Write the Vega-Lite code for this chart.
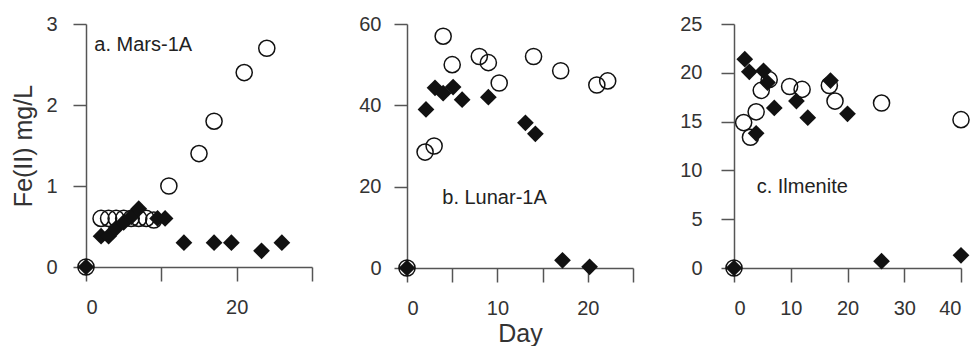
{
  "$schema": "https://vega.github.io/schema/vega-lite/v6.json",
  "background": "white",
  "padding": {"left": 11, "top": 14, "right": 0, "bottom": 0},
  "datasets": {
    "mars": [
      {"day": 0, "fe": 0, "series": "open"},
      {"day": 2, "fe": 0.6, "series": "open"},
      {"day": 3, "fe": 0.6, "series": "open"},
      {"day": 4, "fe": 0.6, "series": "open"},
      {"day": 5, "fe": 0.6, "series": "open"},
      {"day": 6, "fe": 0.6, "series": "open"},
      {"day": 7, "fe": 0.6, "series": "open"},
      {"day": 8, "fe": 0.6, "series": "open"},
      {"day": 9, "fe": 0.58, "series": "open"},
      {"day": 11, "fe": 1.0, "series": "open"},
      {"day": 15, "fe": 1.4, "series": "open"},
      {"day": 17, "fe": 1.8, "series": "open"},
      {"day": 21, "fe": 2.4, "series": "open"},
      {"day": 24, "fe": 2.7, "series": "open"},
      {"day": 0, "fe": 0, "series": "filled"},
      {"day": 2, "fe": 0.38, "series": "filled"},
      {"day": 3, "fe": 0.38, "series": "filled"},
      {"day": 4, "fe": 0.48, "series": "filled"},
      {"day": 5, "fe": 0.55, "series": "filled"},
      {"day": 6, "fe": 0.62, "series": "filled"},
      {"day": 7, "fe": 0.72, "series": "filled"},
      {"day": 9.5, "fe": 0.6, "series": "filled"},
      {"day": 10.5, "fe": 0.6, "series": "filled"},
      {"day": 13, "fe": 0.3, "series": "filled"},
      {"day": 17, "fe": 0.3, "series": "filled"},
      {"day": 19.3, "fe": 0.3, "series": "filled"},
      {"day": 23.3, "fe": 0.2, "series": "filled"},
      {"day": 26, "fe": 0.3, "series": "filled"}
    ],
    "lunar": [
      {"day": 0, "fe": 0, "series": "open"},
      {"day": 2, "fe": 28.5, "series": "open"},
      {"day": 3, "fe": 30, "series": "open"},
      {"day": 4, "fe": 57, "series": "open"},
      {"day": 5, "fe": 50, "series": "open"},
      {"day": 8, "fe": 52, "series": "open"},
      {"day": 9, "fe": 50.5, "series": "open"},
      {"day": 10.2, "fe": 45.5, "series": "open"},
      {"day": 14, "fe": 52, "series": "open"},
      {"day": 17, "fe": 48.5, "series": "open"},
      {"day": 21, "fe": 45, "series": "open"},
      {"day": 22.2, "fe": 46, "series": "open"},
      {"day": 0, "fe": 0, "series": "filled"},
      {"day": 2.1, "fe": 39, "series": "filled"},
      {"day": 3.1, "fe": 44.3, "series": "filled"},
      {"day": 4, "fe": 43, "series": "filled"},
      {"day": 5.1, "fe": 44.5, "series": "filled"},
      {"day": 6.1, "fe": 41.4, "series": "filled"},
      {"day": 9, "fe": 42, "series": "filled"},
      {"day": 13.1, "fe": 35.7, "series": "filled"},
      {"day": 14.2, "fe": 33, "series": "filled"},
      {"day": 17.2, "fe": 1.9, "series": "filled"},
      {"day": 20.2, "fe": 0.3, "series": "filled"}
    ],
    "ilmenite": [
      {"day": 0, "fe": 0, "series": "open"},
      {"day": 1.7, "fe": 14.9, "series": "open"},
      {"day": 2.9, "fe": 13.4, "series": "open"},
      {"day": 3.9, "fe": 16, "series": "open"},
      {"day": 4.8, "fe": 18.2, "series": "open"},
      {"day": 6.2, "fe": 19.3, "series": "open"},
      {"day": 9.8, "fe": 18.6, "series": "open"},
      {"day": 12, "fe": 18.3, "series": "open"},
      {"day": 16.8, "fe": 18.7, "series": "open"},
      {"day": 17.8, "fe": 17.1, "series": "open"},
      {"day": 26, "fe": 16.9, "series": "open"},
      {"day": 40, "fe": 15.2, "series": "open"},
      {"day": 0, "fe": 0, "series": "filled"},
      {"day": 1.9, "fe": 21.4, "series": "filled"},
      {"day": 2.7, "fe": 20.1, "series": "filled"},
      {"day": 5.2, "fe": 20.2, "series": "filled"},
      {"day": 5.9, "fe": 19, "series": "filled"},
      {"day": 3.9, "fe": 13.8, "series": "filled"},
      {"day": 7.1, "fe": 16.4, "series": "filled"},
      {"day": 11, "fe": 17.1, "series": "filled"},
      {"day": 13, "fe": 15.4, "series": "filled"},
      {"day": 17, "fe": 19.2, "series": "filled"},
      {"day": 20, "fe": 15.8, "series": "filled"},
      {"day": 26, "fe": 0.7, "series": "filled"},
      {"day": 40, "fe": 1.3, "series": "filled"}
    ]
  },
  "config": {
    "view": {"stroke": null},
    "font": "Liberation Sans",
    "concat": {"spacing": 45},
    "axis": {
      "grid": false,
      "domainColor": "#555",
      "domainWidth": 1.5,
      "tickColor": "#555",
      "tickWidth": 1.5,
      "tickSize": 13,
      "labelFont": "Liberation Sans",
      "labelFontSize": 20,
      "labelColor": "#333",
      "titleFont": "Liberation Sans",
      "titleFontSize": 25,
      "titleFontWeight": "normal",
      "titleColor": "#333",
      "labelOverlap": false,
      "format": "d"
    },
    "axisX": {"labelPadding": 16, "labelAngle": 0, "tickSize": 14, "titlePadding": 3},
    "axisY": {"labelPadding": 16}
  },
  "hconcat": [
    {
      "width": 226,
      "height": 243,
      "layer": [
        {
          "data": {"name": "mars"},
          "transform": [{"filter": "datum.series == 'open'"}],
          "mark": {"type": "point", "shape": "circle", "filled": false, "stroke": "#111", "strokeWidth": 1.5, "size": 260, "opacity": 1},
          "encoding": {
            "x": {"field": "day", "type": "quantitative", "scale": {"domain": [0, 30], "nice": false, "zero": false},
              "axis": {"values": [0, 10, 20, 30], "labelExpr": "datum.value == 0 || datum.value == 20 ? datum.label : ''", "title": null}},
            "y": {"field": "fe", "type": "quantitative", "scale": {"domain": [0, 3], "nice": false, "zero": false},
              "axis": {"values": [0, 1, 2, 3], "format": "d", "title": "Fe(II) mg/L", "titlePadding": 9}}
          }
        },
        {
          "data": {"name": "mars"},
          "transform": [{"filter": "datum.series == 'filled'"}],
          "mark": {"type": "point", "shape": "diamond", "filled": true, "fill": "#111", "strokeWidth": 0, "size": 280, "opacity": 1},
          "encoding": {
            "x": {"field": "day", "type": "quantitative"},
            "y": {"field": "fe", "type": "quantitative"}
          }
        },
        {
          "data": {"values": [{"label": "a. Mars-1A"}]},
          "mark": {"type": "text", "align": "left", "baseline": "alphabetic", "fontSize": 20, "color": "#222"},
          "encoding": {
            "x": {"datum": 1.1, "type": "quantitative"},
            "y": {"datum": 2.67, "type": "quantitative"},
            "text": {"field": "label"}
          }
        }
      ]
    },
    {
      "width": 226,
      "height": 244,
      "layer": [
        {
          "data": {"name": "lunar"},
          "transform": [{"filter": "datum.series == 'open'"}],
          "mark": {"type": "point", "shape": "circle", "filled": false, "stroke": "#111", "strokeWidth": 1.5, "size": 260, "opacity": 1},
          "encoding": {
            "x": {"field": "day", "type": "quantitative", "scale": {"domain": [0, 25], "nice": false, "zero": false},
              "axis": {"values": [0, 5, 10, 15, 20, 25], "labelExpr": "datum.value == 0 || datum.value == 10 || datum.value == 20 ? datum.label : ''", "title": "Day"}},
            "y": {"field": "fe", "type": "quantitative", "scale": {"domain": [0, 60], "nice": false, "zero": false},
              "axis": {"values": [0, 20, 40, 60], "title": null, "labelPadding": 13}}
          }
        },
        {
          "data": {"name": "lunar"},
          "transform": [{"filter": "datum.series == 'filled'"}],
          "mark": {"type": "point", "shape": "diamond", "filled": true, "fill": "#111", "strokeWidth": 0, "size": 280, "opacity": 1},
          "encoding": {
            "x": {"field": "day", "type": "quantitative"},
            "y": {"field": "fe", "type": "quantitative"}
          }
        },
        {
          "data": {"values": [{"label": "b. Lunar-1A"}]},
          "mark": {"type": "text", "align": "left", "baseline": "alphabetic", "fontSize": 20, "color": "#222"},
          "encoding": {
            "x": {"datum": 3.9, "type": "quantitative"},
            "y": {"datum": 15.7, "type": "quantitative"},
            "text": {"field": "label"}
          }
        }
      ]
    },
    {
      "width": 227,
      "height": 244,
      "layer": [
        {
          "data": {"name": "ilmenite"},
          "transform": [{"filter": "datum.series == 'open'"}],
          "mark": {"type": "point", "shape": "circle", "filled": false, "stroke": "#111", "strokeWidth": 1.5, "size": 260, "opacity": 1},
          "encoding": {
            "x": {"field": "day", "type": "quantitative", "scale": {"domain": [0, 40], "nice": false, "zero": false},
              "axis": {"values": [0, 10, 20, 30, 40], "title": null}},
            "y": {"field": "fe", "type": "quantitative", "scale": {"domain": [0, 25], "nice": false, "zero": false},
              "axis": {"values": [0, 5, 10, 15, 20, 25], "title": null, "labelPadding": 19}}
          }
        },
        {
          "data": {"name": "ilmenite"},
          "transform": [{"filter": "datum.series == 'filled'"}],
          "mark": {"type": "point", "shape": "diamond", "filled": true, "fill": "#111", "strokeWidth": 0, "size": 280, "opacity": 1},
          "encoding": {
            "x": {"field": "day", "type": "quantitative"},
            "y": {"field": "fe", "type": "quantitative"}
          }
        },
        {
          "data": {"values": [{"label": "c. Ilmenite"}]},
          "mark": {"type": "text", "align": "left", "baseline": "alphabetic", "fontSize": 20, "color": "#222"},
          "encoding": {
            "x": {"datum": 4.0, "type": "quantitative"},
            "y": {"datum": 7.7, "type": "quantitative"},
            "text": {"field": "label"}
          }
        }
      ]
    }
  ]
}
